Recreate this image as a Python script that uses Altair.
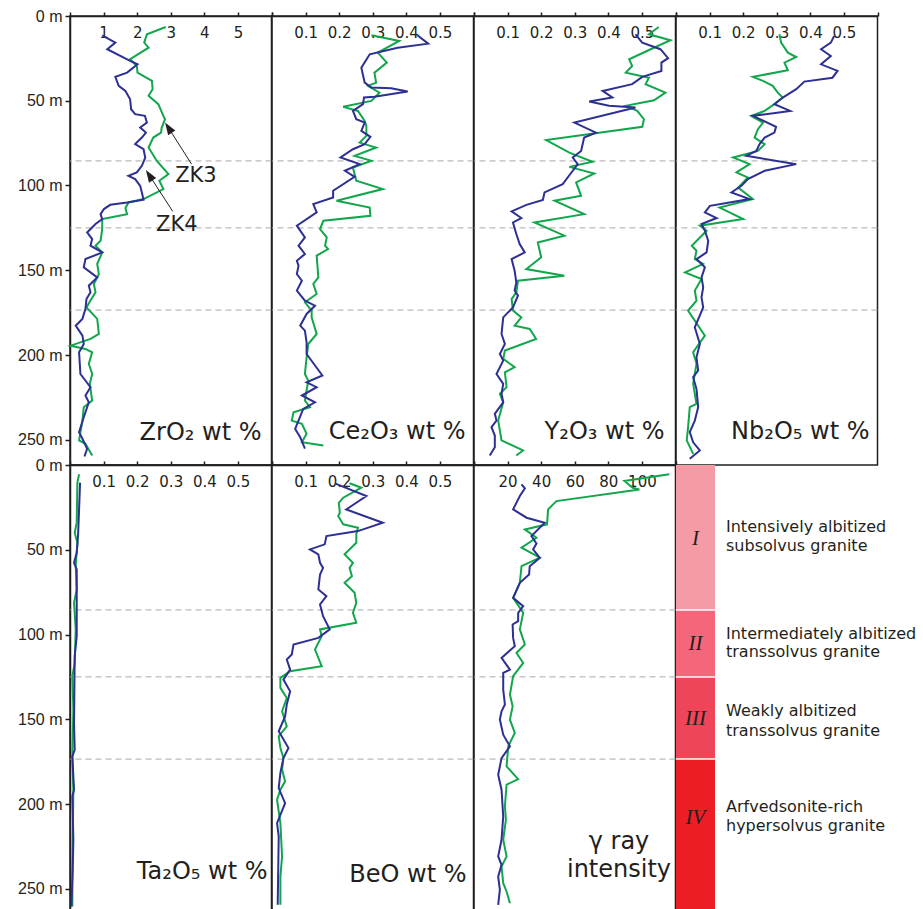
import altair as alt
import pandas as pd

# ---------------- data (depth in m, value) ----------------
ZR_ZK3_D = [6.5, 10.8, 15.7, 18.7, 25.5, 29.5, 33.4, 38.3, 43.2, 47.1, 52.0, 58.9, 60.9, 65.8, 68.8,
            71.7, 77.6, 85.4, 93.3, 97.2, 102.1, 108.0, 110.0, 113.3, 116.9, 119.8, 125.7, 132.6, 135.5, 139.5,
            146.3, 152.2, 158.1, 163.0, 167.9, 171.9, 178.7, 187.6, 190.5, 194.5, 196.4, 198.4, 205.2, 211.2, 217.0,
            226.9, 230.8, 238.7, 250.4, 252.4, 259.3]
ZR_ZK3_V = [2.85, 2.29, 2.21, 2.34, 1.79, 1.99, 2.01, 2.44, 2.46, 2.34, 2.63, 2.78, 2.83, 2.73, 2.71,
            2.48, 2.34, 2.58, 2.93, 2.66, 2.78, 2.19, 1.74, 1.65, 1.70, 0.96, 0.96, 0.91, 0.76, 0.96,
            0.81, 0.86, 0.71, 0.76, 0.61, 0.49, 0.81, 0.86, 0.61, 0.02, 0.46, 0.66, 0.56, 0.66, 0.59,
            0.66, 0.41, 0.37, 0.27, 0.46, 0.66]
ZR_ZK4_D = [11.4, 15.7, 19.6, 26.5, 28.5, 33.4, 35.9, 41.2, 44.2, 49.1, 55.0, 57.9, 58.9, 62.9, 65.8,
            68.8, 71.7, 75.6, 78.6, 83.5, 88.4, 92.3, 94.3, 96.2, 100.2, 104.1, 108.4, 110.0, 111.4, 113.9,
            116.9, 119.8, 122.7, 127.7, 131.6, 135.5, 139.5, 143.4, 148.3, 154.2, 159.1, 163.0, 167.0, 172.8, 178.7,
            182.7, 188.6, 193.5, 198.4, 211.2, 219.0, 223.9, 227.9, 236.7, 245.5, 249.4, 255.3, 259.9]
ZR_ZK4_V = [0.96, 1.35, 1.11, 1.79, 2.01, 1.70, 1.35, 1.45, 1.65, 1.79, 1.82, 1.94, 2.23, 2.29, 2.09,
            2.26, 2.14, 1.94, 2.19, 2.24, 2.14, 1.99, 1.74, 1.94, 2.09, 2.14, 2.19, 1.70, 1.20, 1.01,
            0.91, 0.96, 0.76, 0.51, 0.66, 0.61, 0.96, 0.46, 0.41, 0.81, 0.56, 0.61, 0.49, 0.46, 0.37,
            0.17, 0.37, 0.41, 0.27, 0.31, 0.61, 0.46, 0.56, 0.41, 0.27, 0.37, 0.51, 0.43]

CE_ZK3_D = [11.4, 14.7, 21.6, 27.5, 33.4, 39.3, 41.2, 45.2, 50.1, 53.6, 56.0, 61.9, 64.8, 70.7, 74.7,
            77.6, 82.5, 85.4, 89.4, 97.2, 102.1, 109.0, 113.0, 117.9, 120.8, 125.7, 130.6, 135.5, 137.5, 141.4,
            154.2, 158.1, 164.0, 168.9, 173.8, 177.8, 187.6, 193.5, 201.4, 211.2, 215.1, 226.9, 230.8, 233.8, 238.7,
            240.6, 246.5, 251.5, 253.4]
CE_ZK3_V = [0.296, 0.379, 0.315, 0.342, 0.305, 0.310, 0.286, 0.320, 0.296, 0.212, 0.256, 0.276, 0.281, 0.281, 0.261,
            0.310, 0.246, 0.296, 0.241, 0.251, 0.330, 0.192, 0.291, 0.293, 0.153, 0.143, 0.163, 0.158, 0.167, 0.133,
            0.138, 0.123, 0.133, 0.098, 0.118, 0.118, 0.133, 0.108, 0.103, 0.098, 0.108, 0.098, 0.113, 0.064, 0.059,
            0.089, 0.103, 0.089, 0.153]
CE_ZK4_D = [11.4, 16.3, 18.7, 22.6, 30.5, 39.3, 42.2, 42.6, 44.6, 47.7, 48.1, 52.0, 56.0, 60.9, 62.9,
            67.8, 71.3, 75.6, 78.6, 83.5, 87.4, 91.3, 94.9, 103.1, 107.1, 111.0, 115.9, 123.7, 130.6, 135.5,
            140.4, 144.4, 147.3, 152.2, 156.2, 162.0, 167.9, 170.9, 175.8, 182.7, 185.6, 192.5, 199.4, 212.1, 216.1,
            219.0, 223.9, 227.9, 231.8, 243.6, 248.5, 255.3]
CE_ZK4_V = [0.433, 0.465, 0.374, 0.291, 0.266, 0.276, 0.296, 0.355, 0.404, 0.305, 0.274, 0.271, 0.241, 0.251, 0.276,
            0.266, 0.293, 0.276, 0.241, 0.204, 0.261, 0.217, 0.246, 0.182, 0.182, 0.123, 0.133, 0.074, 0.098, 0.079,
            0.098, 0.074, 0.079, 0.074, 0.089, 0.074, 0.098, 0.128, 0.103, 0.084, 0.098, 0.103, 0.103, 0.150, 0.103,
            0.133, 0.089, 0.128, 0.093, 0.069, 0.084, 0.098]

Y_ZK3_D = [6.5, 10.8, 14.3, 19.6, 25.5, 29.5, 33.4, 36.4, 40.2, 45.2, 49.7, 53.0, 56.0, 60.9, 65.4,
           73.2, 80.6, 86.0, 89.0, 92.9, 98.2, 106.1, 109.0, 116.9, 121.8, 129.6, 133.6, 142.4, 149.3, 153.2,
           156.2, 163.0, 167.0, 173.8, 177.8, 182.7, 184.6, 190.5, 197.4, 202.3, 207.2, 210.2, 219.0, 222.9, 227.9,
           238.7, 250.4, 256.3, 259.3]
Y_ZK3_V = [0.550, 0.521, 0.585, 0.526, 0.462, 0.471, 0.452, 0.521, 0.511, 0.570, 0.536, 0.452, 0.486, 0.506, 0.501,
           0.215, 0.284, 0.353, 0.284, 0.358, 0.304, 0.319, 0.240, 0.328, 0.180, 0.269, 0.190, 0.200, 0.156, 0.269,
           0.131, 0.126, 0.112, 0.116, 0.141, 0.121, 0.166, 0.185, 0.092, 0.087, 0.121, 0.092, 0.097, 0.077, 0.087,
           0.072, 0.082, 0.146, 0.126]
Y_ZK4_D = [10.8, 15.7, 19.6, 24.9, 27.5, 32.4, 35.9, 40.2, 44.2, 48.1, 50.5, 53.0, 54.0, 62.9, 68.8,
           71.7, 79.6, 83.5, 87.4, 91.3, 99.2, 104.1, 108.6, 111.4, 115.3, 119.2, 121.8, 128.6, 134.5, 139.5,
           143.4, 150.3, 157.2, 162.0, 165.0, 171.9, 177.8, 187.6, 193.5, 199.4, 203.3, 211.2, 217.0, 222.9, 227.9,
           234.7, 238.7, 242.6, 247.5, 254.4, 259.3]
Y_ZK4_V = [0.481, 0.501, 0.555, 0.578, 0.558, 0.558, 0.501, 0.471, 0.383, 0.412, 0.343, 0.402, 0.481, 0.299, 0.363,
           0.328, 0.319, 0.294, 0.309, 0.294, 0.264, 0.210, 0.205, 0.156, 0.112, 0.141, 0.116, 0.126, 0.136, 0.151,
           0.112, 0.121, 0.126, 0.121, 0.131, 0.116, 0.087, 0.082, 0.092, 0.077, 0.087, 0.067, 0.087, 0.082, 0.087,
           0.062, 0.067, 0.052, 0.062, 0.062, 0.047]

NB_ZK3_D = [10.8, 15.7, 21.6, 24.2, 27.5, 32.0, 35.9, 38.3, 41.2, 45.2, 48.1, 52.0, 56.0, 58.9, 62.9,
            66.8, 71.7, 75.6, 79.6, 83.5, 87.4, 92.3, 95.3, 101.2, 108.0, 113.0, 119.8, 123.7, 126.7, 135.5,
            138.5, 143.4, 146.3, 151.3, 155.2, 162.0, 167.9, 173.8, 188.6, 198.4, 205.2, 217.0, 228.8, 230.8, 242.6,
            250.4, 258.3]
NB_ZK3_V = [0.308, 0.313, 0.333, 0.358, 0.323, 0.333, 0.229, 0.259, 0.288, 0.303, 0.318, 0.293, 0.264, 0.224, 0.259,
            0.244, 0.234, 0.264, 0.244, 0.170, 0.219, 0.180, 0.214, 0.185, 0.229, 0.130, 0.200, 0.071, 0.091, 0.047,
            0.061, 0.056, 0.081, 0.027, 0.076, 0.056, 0.061, 0.036, 0.086, 0.051, 0.061, 0.051, 0.061, 0.041, 0.036,
            0.032, 0.051]
NB_ZK4_D = [11.8, 15.7, 19.6, 23.6, 28.5, 32.4, 36.4, 38.7, 43.2, 48.1, 52.0, 56.0, 58.9, 65.4, 68.8,
            71.7, 75.6, 79.6, 82.5, 87.4, 91.3, 96.2, 100.2, 104.1, 108.0, 112.0, 115.9, 119.2, 122.7, 126.7,
            132.6, 139.5, 143.4, 148.3, 154.2, 160.1, 166.0, 171.9, 183.7, 193.5, 201.4, 209.2, 213.1, 220.0, 230.8,
            238.7, 245.5, 251.5, 256.3, 261.2]
NB_ZK4_V = [0.471, 0.461, 0.432, 0.461, 0.432, 0.481, 0.466, 0.382, 0.358, 0.318, 0.293, 0.340, 0.229, 0.298, 0.293,
            0.264, 0.249, 0.239, 0.209, 0.358, 0.264, 0.214, 0.195, 0.165, 0.219, 0.101, 0.086, 0.121, 0.076, 0.086,
            0.096, 0.091, 0.061, 0.086, 0.076, 0.081, 0.076, 0.081, 0.056, 0.071, 0.061, 0.066, 0.051, 0.061, 0.066,
            0.056, 0.041, 0.051, 0.071, 0.041]

TA_ZK3_D = [5.5, 10.4, 34.0, 40.0, 45.9, 59.7, 73.4, 81.3, 97.0, 116.8, 124.6, 144.3, 171.9, 191.6, 221.1, 240.0, 260.5]
TA_ZK3_V = [0.027, 0.022, 0.020, 0.014, 0.022, 0.017, 0.020, 0.012, 0.017, 0.014, 0.007, 0.010, 0.007, 0.010, 0.008, 0.007, 0.007]
TA_ZK4_D = [10.4, 26.2, 41.9, 51.8, 57.7, 61.6, 101.0, 112.8, 152.2, 168.0, 171.9, 191.6, 195.5, 221.1, 240.0, 260.5]
TA_ZK4_V = [0.030, 0.027, 0.024, 0.020, 0.012, 0.020, 0.020, 0.014, 0.012, 0.014, 0.007, 0.012, 0.007, 0.010, 0.008, 0.004]

BE_ZK3_D = [10.8, 13.4, 19.3, 22.3, 28.2, 30.1, 35.0, 37.0, 40.9, 45.9, 52.7, 57.7, 60.7, 65.6, 69.5,
            75.4, 81.3, 87.2, 93.1, 97.0, 101.0, 108.9, 118.7, 121.7, 125.6, 131.5, 137.5, 145.3, 154.2, 160.1,
            167.0, 172.9, 179.7, 186.6, 191.6, 197.5, 204.4, 211.3, 230.9, 242.8, 259.5]
BE_ZK3_V = [0.231, 0.266, 0.212, 0.199, 0.202, 0.197, 0.212, 0.256, 0.251, 0.251, 0.216, 0.241, 0.231, 0.238, 0.216,
            0.246, 0.251, 0.241, 0.251, 0.143, 0.148, 0.128, 0.148, 0.054, 0.025, 0.025, 0.044, 0.030, 0.044, 0.020,
            0.025, 0.034, 0.030, 0.039, 0.025, 0.015, 0.020, 0.025, 0.030, 0.025, 0.025]
BE_ZK4_D = [10.8, 18.3, 26.2, 34.1, 39.0, 41.9, 46.8, 49.8, 52.7, 57.7, 60.7, 64.6, 73.4, 77.4, 82.3,
            89.2, 97.0, 102.0, 105.9, 111.8, 114.8, 120.7, 126.6, 133.5, 141.3, 148.3, 157.1, 167.0, 172.9, 181.7,
            190.6, 199.5, 211.3, 219.1, 259.5]
BE_ZK4_V = [0.187, 0.281, 0.221, 0.330, 0.256, 0.162, 0.157, 0.113, 0.138, 0.143, 0.152, 0.143, 0.138, 0.162, 0.143,
            0.152, 0.172, 0.138, 0.064, 0.059, 0.044, 0.054, 0.034, 0.054, 0.044, 0.039, 0.020, 0.049, 0.034, 0.025,
            0.020, 0.039, 0.015, 0.020, 0.017]

GR_ZK3_D = [5.5, 9.4, 13.4, 14.4, 21.3, 26.2, 35.0, 38.0, 42.9, 48.8, 54.7, 59.7, 69.5, 78.4, 87.2,
            97.0, 105.9, 110.9, 116.8, 124.6, 135.4, 142.4, 150.2, 158.1, 166.0, 177.8, 185.3, 188.6, 201.4, 209.3,
            221.1, 230.9, 236.9, 246.7, 251.6, 258.5]
GR_ZK3_V = [116.3, 89.6, 94.5, 98.5, 49.1, 44.1, 43.5, 30.3, 37.2, 28.3, 39.2, 28.3, 27.3, 23.3, 29.3,
            27.3, 30.3, 25.3, 29.3, 23.3, 21.4, 23.0, 21.4, 24.3, 20.4, 19.4, 26.3, 19.4, 18.4, 19.0,
            17.4, 19.4, 16.4, 17.4, 19.4, 21.4]
GR_ZK4_D = [11.4, 13.8, 18.3, 26.2, 31.1, 34.1, 41.9, 46.3, 49.8, 54.8, 59.7, 64.6, 69.5, 78.4, 83.3,
            87.2, 92.1, 94.1, 102.0, 106.9, 113.8, 120.7, 122.7, 132.5, 141.3, 145.3, 150.2, 159.1, 166.0, 172.9,
            182.7, 191.6, 207.3, 221.1, 230.9, 235.9, 242.8, 250.6, 259.5]
GR_ZK4_V = [28.3, 30.3, 27.3, 23.3, 31.3, 42.1, 34.2, 37.2, 35.2, 39.2, 33.2, 32.8, 27.3, 23.3, 29.3,
            26.3, 26.3, 23.0, 23.3, 24.3, 16.4, 21.4, 17.4, 17.4, 18.4, 16.4, 15.4, 17.4, 21.4, 16.4,
            14.4, 16.4, 17.4, 16.4, 14.4, 16.4, 14.4, 15.4, 14.4]

BOUNDARIES = [85.5, 125.0, 173.5]
DEPTH_TICKS = [0, 50, 100, 150, 200, 250]
ZR_TICKS = [0, 1, 2, 3, 4, 5, 6]
WT_TICKS = [0, 0.1, 0.2, 0.3, 0.4, 0.5, 0.6]
GR_TICKS = [0, 20, 40, 60, 80, 100, 120]

ZONE_START = [0, 85.5, 125.0, 173.5]
ZONE_END = [85.5, 125.0, 173.5, 262.5]
ZONE_COLOR = ["#F59BA6", "#F5667B", "#EF4559", "#EC1D25"]
ZONE_NUMERAL = ["I", "II", "III", "IV"]
ZONE_NUMERAL_D = [43.5, 105.5, 150.0, 208.5]
LEGEND_LINES = ["Intensively albitized", "subsolvus granite",
                "Intermediately albitized", "transsolvus granite",
                "Weakly albitized", "transsolvus granite",
                "Arfvedsonite-rich", "hypersolvus granite"]
LEGEND_D = [39.6, 50.8, 102.6, 113.4, 148.3, 159.7, 205.0, 215.8]

ANNOT_TEXT = ["ZK3", "ZK4"]
ANNOT_X = [3.75, 3.18]
ANNOT_D = [94.6, 123.4]
ARROW_TAIL_X = [3.62, 3.06]
ARROW_TAIL_D = [87.4, 115.3]
ARROW_HEAD_X = [2.93, 2.36]
ARROW_HEAD_D = [65.9, 93.9]

# ---------------- style ----------------
GREEN = "#12A64C"
BLUE = "#2D3092"
INK = "#231F20"
DASH = "#A9A9A9"
W = 201.5
W_ZONE = 39
H_TOP = 449
H_BOT = 445
PXM = 1.695


def df(d, v):
    return pd.DataFrame({"d": d, "v": v})


def make_panel(g, b, xmax, xticks, fmt, height, titles, left_axis, extras=False):
    dmax = height / PXM
    yscale = alt.Scale(domain=[0, dmax], reverse=True, nice=False, zero=False)
    xscale = alt.Scale(domain=[0, xmax], nice=False, zero=False)
    if left_axis:
        yaxis = alt.Axis(orient="left", values=DEPTH_TICKS, labelExpr="datum.value + ' m'",
                         tickSize=5, labelPadding=3, labelFont="Liberation Sans", labelFontSize=16,
                         grid=False, title=None, labelFlush=False, labelOverlap=False)
    else:
        yaxis = None
    xaxis = alt.Axis(orient="top", values=xticks, format=fmt,
                     labelExpr=f"(datum.value <= 0 || datum.value >= {xmax}) ? '' : datum.label",
                     tickSize=4, labelPadding=-25, labelBaseline="alphabetic", labelAngle=0,
                     labelFont="DejaVu Sans", labelFontSize=15, grid=False, title=None,
                     labelFlush=False, labelOverlap=False)

    def X(f):
        return alt.X(f, scale=xscale, axis=xaxis)

    def Y(f):
        return alt.Y(f, scale=yscale, axis=yaxis)

    layers = []
    layers.append(alt.Chart(pd.DataFrame({"d": BOUNDARIES})).mark_rule(
        color=DASH, strokeDash=[6, 4], strokeWidth=1).encode(y=Y("d:Q")))
    layers.append(alt.Chart(df(*g)).mark_line(color=GREEN, strokeWidth=2).encode(
        x=X("v:Q"), y=Y("d:Q"), order=alt.Order("d:Q")))
    layers.append(alt.Chart(df(*b)).mark_line(color=BLUE, strokeWidth=2).encode(
        x=X("v:Q"), y=Y("d:Q"), order=alt.Order("d:Q")))
    if extras:
        arr = pd.DataFrame({"x1": ARROW_TAIL_X, "d1": ARROW_TAIL_D,
                            "x2": ARROW_HEAD_X, "d2": ARROW_HEAD_D})
        layers.append(alt.Chart(arr).mark_rule(color=INK, strokeWidth=1).encode(
            x=X("x1:Q"), y=Y("d1:Q"), x2="x2:Q", y2="d2:Q"))
        layers.append(alt.Chart(arr).mark_point(
            shape="M0,-1L0.7,1L-0.7,1Z", filled=True, size=150, angle=327,
            color=INK, opacity=1, strokeWidth=0).encode(x=X("x2:Q"), y=Y("d2:Q")))
        lab = pd.DataFrame({"t": ANNOT_TEXT, "x": ANNOT_X, "d": ANNOT_D})
        layers.append(alt.Chart(lab).mark_text(
            font="DejaVu Sans", fontSize=21, color=INK, align="center", baseline="middle").encode(
            x=X("x:Q"), y=Y("d:Q"), text="t:N"))
    for (txt, px, py, al) in titles:
        layers.append(alt.Chart(pd.DataFrame({"t": [txt]})).mark_text(
            font="DejaVu Sans", fontSize=24, color=INK, align=al, baseline="alphabetic").encode(
            x=alt.value(px), y=alt.value(py), text="t:N"))
    return alt.layer(*layers).properties(width=W, height=height)


p_zr = make_panel((ZR_ZK3_D, ZR_ZK3_V), (ZR_ZK4_D, ZR_ZK4_V), 6, ZR_TICKS, "d", H_TOP,
                  [("ZrO\u2082 wt %", W - 10, 424, "right")], True, extras=True)
p_ce = make_panel((CE_ZK3_D, CE_ZK3_V), (CE_ZK4_D, CE_ZK4_V), 0.6, WT_TICKS, ".1f", H_TOP,
                  [("Ce\u2082O\u2083 wt %", W - 8, 423, "right")], False)
p_y = make_panel((Y_ZK3_D, Y_ZK3_V), (Y_ZK4_D, Y_ZK4_V), 0.6, WT_TICKS, ".1f", H_TOP,
                 [("Y\u2082O\u2083 wt %", W - 11, 423, "right")], False)
p_nb = make_panel((NB_ZK3_D, NB_ZK3_V), (NB_ZK4_D, NB_ZK4_V), 0.6, WT_TICKS, ".1f", H_TOP,
                  [("Nb\u2082O\u2085 wt %", W - 8, 423, "right")], False)
p_ta = make_panel((TA_ZK3_D, TA_ZK3_V), (TA_ZK4_D, TA_ZK4_V), 0.6, WT_TICKS, ".1f", H_BOT,
                  [("Ta\u2082O\u2085 wt %", W - 4, 414, "right")], True)
p_be = make_panel((BE_ZK3_D, BE_ZK3_V), (BE_ZK4_D, BE_ZK4_V), 0.6, WT_TICKS, ".1f", H_BOT,
                  [("BeO wt %", W - 7, 417, "right")], False)
p_gr = make_panel((GR_ZK3_D, GR_ZK3_V), (GR_ZK4_D, GR_ZK4_V), 120, GR_TICKS, "d", H_BOT,
                  [("\u03b3 ray", 145, 384, "center"), ("intensity", 145, 412, "center")], False)

zscale = alt.Scale(domain=[0, H_BOT / PXM], reverse=True, nice=False, zero=False)
zones = pd.DataFrame({"s": ZONE_START, "e": ZONE_END, "c": ZONE_COLOR,
                      "n": ZONE_NUMERAL, "nd": ZONE_NUMERAL_D})
z_rect = alt.Chart(zones).mark_rect().encode(
    y=alt.Y("s:Q", scale=zscale, axis=None), y2="e:Q",
    x=alt.value(0), x2=alt.value(W_ZONE), color=alt.Color("c:N", scale=None))
z_sep = alt.Chart(pd.DataFrame({"d": BOUNDARIES})).mark_rule(color="white", strokeWidth=1.5).encode(
    y=alt.Y("d:Q", scale=zscale, axis=None), x=alt.value(0), x2=alt.value(W_ZONE))
z_num = alt.Chart(zones).mark_text(font="Liberation Serif", fontStyle="italic", fontSize=21,
                                   color=INK, align="center", baseline="middle").encode(
    y=alt.Y("nd:Q", scale=zscale, axis=None), x=alt.value(W_ZONE / 2), text="n:N")
z_leg = alt.Chart(pd.DataFrame({"t": LEGEND_LINES, "d": LEGEND_D})).mark_text(
    font="DejaVu Sans", fontSize=16, color=INK, align="left", baseline="alphabetic").encode(
    y=alt.Y("d:Q", scale=zscale, axis=None), x=alt.value(50), text="t:N")
p_zone = alt.layer(z_rect, z_sep, z_num, z_leg).properties(
    width=W_ZONE, height=H_BOT, view=alt.ViewBackground(stroke="transparent"))

chart = alt.concat(p_zr, p_ce, p_y, p_nb, p_ta, p_be, p_gr, p_zone,
                   columns=4, spacing=0, bounds="flush").properties(
    padding={"left": 16, "top": 7, "right": 2, "bottom": 0}
).configure_view(stroke=INK, strokeWidth=1.5).configure_axis(
    domainColor=INK, tickColor=INK, labelColor=INK, domainWidth=1.5, tickWidth=1.5)

chart.save("out.html", embed_options={"renderer": "svg", "actions": False})
